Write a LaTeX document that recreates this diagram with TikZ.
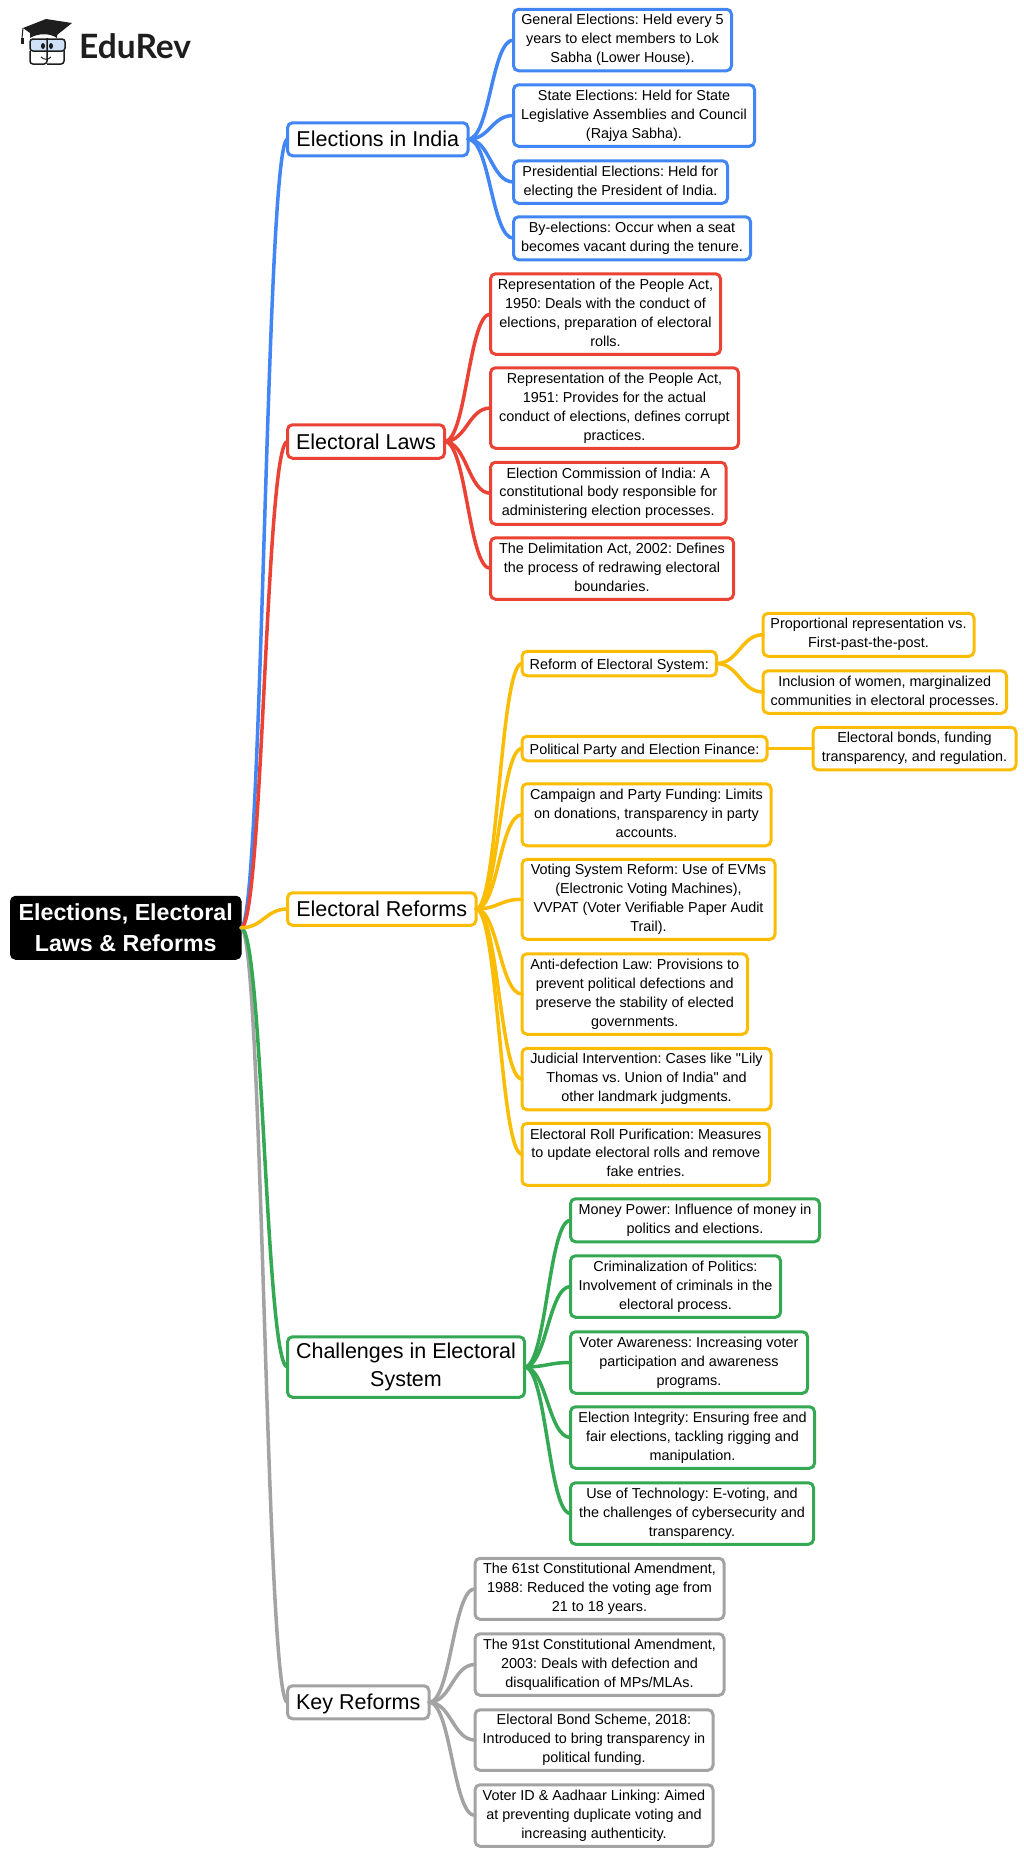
\documentclass[tikz,border=0pt]{standalone}
\usepackage{fontspec}
\setmainfont{Liberation Sans}[Ligatures=TeXOff]
\newfontfamily\logofont{Lato}
\frenchspacing
\definecolor{cblue}{HTML}{4285F4}
\definecolor{cred}{HTML}{EA4335}
\definecolor{cyel}{HTML}{FBBC04}
\definecolor{cgreen}{HTML}{34A853}
\definecolor{cgrey}{HTML}{A3A3A3}
\definecolor{logoblue}{HTML}{CFE0F7}
\definecolor{logodark}{HTML}{1E1E1E}
\tikzset{
  boxbase/.style={draw, fill=white, rounded corners=5pt, line width=3pt, inner sep=0pt, outer sep=0pt, align=center, text=black},
  leaf/.style={boxbase, font=\frenchspacing\fontsize{14.4}{18.9}\selectfont,
    execute at begin node={\rule{0pt}{15.5pt}}, execute at end node={\rule[-3.1pt]{0pt}{3.1pt}}},
  branch/.style={boxbase, font=\frenchspacing\fontsize{21.5}{28}\selectfont,
    execute at begin node={\rule{0pt}{20pt}}, execute at end node={\rule[-5pt]{0pt}{5pt}}},
  rootbox/.style={draw=black, fill=black, rounded corners=5pt, line width=1pt, inner sep=0pt, outer sep=0pt, align=center, text=white, font=\frenchspacing\fontsize{23.2}{30.4}\selectfont\bfseries},
  link/.style={line width=3.5pt, line cap=round},
}
\newcommand\bx[7]{%
  \node[#6, minimum width={(#4-#2-1)*1pt}, minimum height={(#5-#3-1.5)*1pt}] (#1) at ({(#2+#4)/2+1},{(#3+#5)/2}) {#7};}
\newcommand\cn[3]{\draw[link, draw=#1] (#2.east) .. controls +(22,0) and +(-22,0) .. (#3.west);}
\begin{document}
\begin{tikzpicture}[x=1pt,y=-1pt]
\useasboundingbox[fill=white] (0,0) rectangle (1024,1855);

% logo
\fill[logodark] (23,28) -- (46,19) -- (72,23) -- (57,35) -- (49,32) -- (30,33) -- cycle;
\fill[logodark] (30,30) -- (30,38) .. controls (38,33) and (50,33) .. (57,38) -- (57,32) -- cycle;
\draw[logodark, line width=1pt] (23,28) -- (22,38);
\fill[logodark] (20.5,38) rectangle (23.5,44);
\draw[logodark, line width=1.5pt, fill=logoblue, rounded corners=3pt] (30,39) rectangle (65,51);
\draw[logodark, line width=1.5pt, rounded corners=3pt] (30,51) -- (30,64) -- (47,64) -- (47,38);
\draw[logodark, line width=1.5pt, rounded corners=3pt] (47,64) -- (64,64) -- (64,51);
\fill[logodark] (43,46) ellipse (2pt and 3pt);
\fill[logodark] (51,46) ellipse (2pt and 3pt);
\draw[logodark, line width=1pt] (41,57) .. controls (44,60) and (48,60) .. (51,57);
\node[anchor=base west, inner sep=0pt, font=\logofont\bfseries\fontsize{33.5}{33.5}\selectfont, text=logodark] (logo) at (79,58) {EduRev};

% root
\bx{root}{9}{895.5}{240.5}{960}{rootbox}{Elections, Electoral\\Laws \& Reforms}

% branches
\bx{india}{286}{122}{467.5}{156.5}{branch, draw=cblue}{Elections in India}
\bx{laws}{286}{424}{444}{459}{branch, draw=cred}{Electoral Laws}
\bx{reforms}{286}{892}{475.5}{926}{branch, draw=cyel}{Electoral Reforms}
\bx{chall}{286}{1336}{524}{1398}{branch, draw=cgreen}{Challenges in Electoral\\System}
\bx{key}{286}{1685}{428.5}{1719.5}{branch, draw=cgrey}{Key Reforms}

% blue leaves
\bx{ia}{512}{8.5}{731}{71.5}{leaf, draw=cblue}{General Elections: Held every 5\\years to elect members to Lok\\Sabha (Lower House).}
\bx{ib}{512}{84}{754}{147}{leaf, draw=cblue}{State Elections: Held for State\\Legislative Assemblies and Council\\(Rajya Sabha).}
\bx{ic}{512}{160}{727}{204}{leaf, draw=cblue}{Presidential Elections: Held for\\electing the President of India.}
\bx{id}{512}{216}{750}{260.5}{leaf, draw=cblue}{By-elections: Occur when a seat\\becomes vacant during the tenure.}

% red leaves
\bx{la}{489}{273}{720}{355}{leaf, draw=cred}{Representation of the People Act,\\1950: Deals with the conduct of\\elections, preparation of electoral\\rolls.}
\bx{lb}{489}{367}{738}{449}{leaf, draw=cred}{Representation of the People Act,\\1951: Provides for the actual\\conduct of elections, defines corrupt\\practices.}
\bx{lc}{489}{461.5}{725.5}{525}{leaf, draw=cred}{Election Commission of India: A\\constitutional body responsible for\\administering election processes.}
\bx{ld}{489}{537}{733}{600}{leaf, draw=cred}{The Delimitation Act, 2002: Defines\\the process of redrawing electoral\\boundaries.}

% yellow leaves
\bx{ra}{520.5}{650.5}{716}{676.5}{leaf, draw=cyel}{Reform of Electoral System:}
\bx{raa}{761.5}{612.5}{973.5}{657}{leaf, draw=cyel}{Proportional representation vs.\\First-past-the-post.}
\bx{rab}{761.5}{670}{1006}{714}{leaf, draw=cyel}{Inclusion of women, marginalized\\communities in electoral processes.}
\bx{rb}{520.5}{735.5}{766.5}{761.5}{leaf, draw=cyel}{Political Party and Election Finance:}
\bx{rba}{811.5}{726.5}{1015.5}{770.5}{leaf, draw=cyel}{Electoral bonds, funding\\transparency, and regulation.}
\bx{rc}{520.5}{783}{770.5}{846.5}{leaf, draw=cyel}{Campaign and Party Funding: Limits\\on donations, transparency in party\\accounts.}
\bx{rd}{520.5}{858.5}{774.5}{940}{leaf, draw=cyel}{Voting System Reform: Use of EVMs\\(Electronic Voting Machines),\\VVPAT (Voter Verifiable Paper Audit\\Trail).}
\bx{re}{520.5}{953}{747}{1035}{leaf, draw=cyel}{Anti-defection Law: Provisions to\\prevent political defections and\\preserve the stability of elected\\governments.}
\bx{rf}{520.5}{1047.5}{770.5}{1110.5}{leaf, draw=cyel}{Judicial Intervention: Cases like "Lily\\Thomas vs. Union of India" and\\other landmark judgments.}
\bx{rg}{520.5}{1122.5}{769}{1186}{leaf, draw=cyel}{Electoral Roll Purification: Measures\\to update electoral rolls and remove\\fake entries.}

% green leaves
\bx{ca}{569}{1198}{819}{1242.5}{leaf, draw=cgreen}{Money Power: Influence of money in\\politics and elections.}
\bx{cb}{569}{1255}{780}{1318}{leaf, draw=cgreen}{Criminalization of Politics:\\Involvement of criminals in the\\electoral process.}
\bx{cc}{569}{1331}{807}{1394}{leaf, draw=cgreen}{Voter Awareness: Increasing voter\\participation and awareness\\programs.}
\bx{cd}{569}{1406}{814}{1469}{leaf, draw=cgreen}{Election Integrity: Ensuring free and\\fair elections, tackling rigging and\\manipulation.}
\bx{ce}{569}{1482}{813}{1545}{leaf, draw=cgreen}{Use of Technology: E-voting, and\\the challenges of cybersecurity and\\transparency.}

% grey leaves
\bx{ka}{473.5}{1557.5}{723.5}{1620}{leaf, draw=cgrey}{The 61st Constitutional Amendment,\\1988: Reduced the voting age from\\21 to 18 years.}
\bx{kb}{473.5}{1633}{723.5}{1696}{leaf, draw=cgrey}{The 91st Constitutional Amendment,\\2003: Deals with defection and\\disqualification of MPs/MLAs.}
\bx{kc}{473.5}{1709}{712.5}{1771}{leaf, draw=cgrey}{Electoral Bond Scheme, 2018:\\Introduced to bring transparency in\\political funding.}
\bx{kd}{473.5}{1784}{712.5}{1847}{leaf, draw=cgrey}{Voter ID \& Aadhaar Linking: Aimed\\at preventing duplicate voting and\\increasing authenticity.}

% connectors
\cn{cblue}{root}{india}
\cn{cred}{root}{laws}
\cn{cgrey}{root}{key}
\cn{cgreen}{root}{chall}
\cn{cyel}{root}{reforms}
\foreach \c in {ia,ib,ic,id} {\cn{cblue}{india}{\c}}
\foreach \c in {la,lb,lc,ld} {\cn{cred}{laws}{\c}}
\foreach \c in {ra,rb,rc,rd,re,rf,rg} {\cn{cyel}{reforms}{\c}}
\cn{cyel}{ra}{raa}
\cn{cyel}{ra}{rab}
\cn{cyel}{rb}{rba}
\foreach \c in {ca,cb,cc,cd,ce} {\cn{cgreen}{chall}{\c}}
\foreach \c in {ka,kb,kc,kd} {\cn{cgrey}{key}{\c}}
\end{tikzpicture}
\end{document}
